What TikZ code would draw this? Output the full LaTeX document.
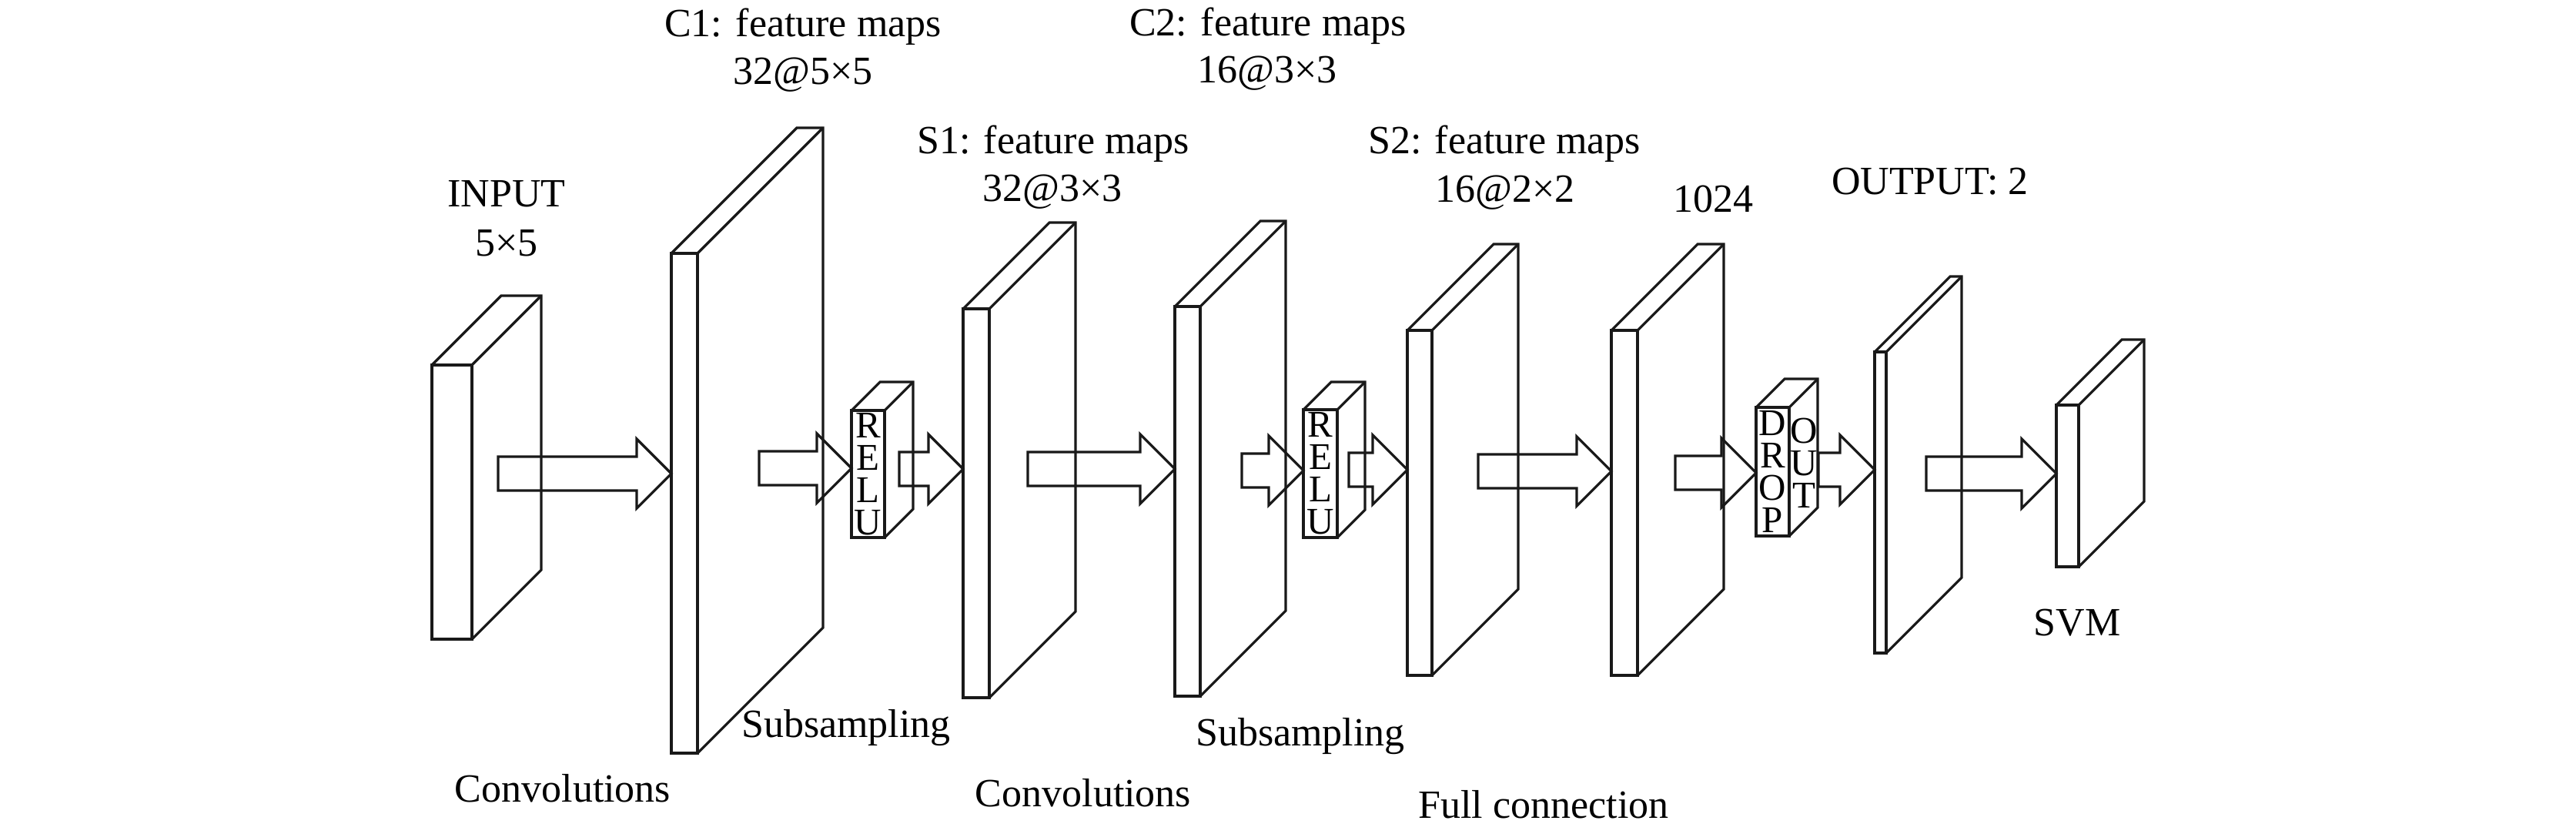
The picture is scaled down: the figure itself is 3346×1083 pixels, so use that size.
\documentclass[tikz,border=0pt]{standalone}
\usepackage{fontspec}
\setmainfont{Liberation Serif}
\usetikzlibrary{calc}
\tikzset{
  edgeline/.style={draw=black!90, line width=3.2pt, line join=miter},
  lface/.style={edgeline, rectangle, inner sep=0pt, outer sep=0pt, align=center, font=\fontsize{49}{42}\selectfont},
  stack/.style={align=center, inner sep=0pt, font=\fontsize{49}{42}\selectfont},
  lbl/.style={anchor=base, inner sep=0pt, font=\fontsize{52}{62}\selectfont},
}
% #1 name, #2 x1, #3 y1, #4 x2, #5 y2, #6 depth, #7 text
\newcommand\layerbox[7]{%
  \node[lface, minimum width={(#4-#2)*1pt}, minimum height={(#5-#3)*1pt}] (#1) at ({(#2+#4)/2},{(#3+#5)/2}) {#7};
  \draw[edgeline] (#1.north west) -- ++(#6,-#6) -- ++({#4-#2},0) -- ($(#1.south east)+(#6,-#6)$) -- (#1.south east);
  \draw[edgeline] (#1.north east) -- ++(#6,-#6);
}
% #1 start x, #2 target node, #3 y
\newcommand\blockarrow[3]{%
  \coordinate (tip) at (#2.west |- 0,#3);
  \draw[edgeline] (#1,{#3-22}) -- ($(tip)+(-45,-22)$) -- ($(tip)+(-45,-45)$) -- (tip)
    -- ($(tip)+(-45,45)$) -- ($(tip)+(-45,22)$) -- (#1,{#3+22}) -- cycle;
}
\begin{document}
\begin{tikzpicture}[x=1pt, y=-1pt]
\fill[white] (0,0) rectangle (3346,1083);
\useasboundingbox (0,0) rectangle (3346,1083);

% layers
\layerbox{inp}{561}{474}{613}{830}{90}{}
\layerbox{cone}{872}{329}{906}{978}{163}{}
\layerbox{relua}{1106}{533}{1149}{698}{37}{R\\E\\L\\U}
\layerbox{sone}{1251}{401}{1285}{906}{112}{}
\layerbox{ctwo}{1526}{398}{1559}{904}{111}{}
\layerbox{relub}{1693}{532}{1737}{698}{36}{R\\E\\L\\U}
\layerbox{stwo}{1828}{429}{1860}{877}{112}{}
\layerbox{fc}{2093}{429}{2127}{877}{112}{}
\layerbox{drop}{2281}{529}{2324}{696}{37}{D\\R\\O\\P}
\node[stack] (outword) at (2343,601) {O\\U\\T};
\layerbox{outp}{2435}{457}{2450}{848}{98}{}
\layerbox{svm}{2671}{526}{2700}{736}{85}{}

% arrows
\blockarrow{647}{cone}{615}
\blockarrow{986}{relua}{608}
\blockarrow{1168}{sone}{609}
\blockarrow{1335}{ctwo}{609}
\blockarrow{1613}{relub}{611}
\blockarrow{1752}{stwo}{610}
\blockarrow{1920}{fc}{612}
\blockarrow{2176}{drop}{614}
\blockarrow{2362}{outp}{610}
\blockarrow{2502}{svm}{615}

% labels
\node[lbl] (inplab) at (658,269) {INPUT};
\node[lbl] (inpdim) at (658,332) {5×5};
\node[lbl] (conelab) at (1043,48) {C1: feature maps};
\node[lbl] (conedim) at (1043,110) {32@5×5};
\node[lbl] (sonelab) at (1368,200) {S1: feature maps};
\node[lbl] (sonedim) at (1367,262) {32@3×3};
\node[lbl] (ctwolab) at (1647,47) {C2: feature maps};
\node[lbl] (ctwodim) at (1646,108) {16@3×3};
\node[lbl] (stwolab) at (1954,200) {S2: feature maps};
\node[lbl] (stwodim) at (1955,263) {16@2×2};
\node[lbl] (fclab) at (2225,276) {1024};
\node[lbl] (outlab) at (2507,253) {OUTPUT: 2};
\node[lbl] (svmlab) at (2698,825) {SVM};
\node[lbl] (convone) at (731,1041) {Convolutions};
\node[lbl] (subone) at (1099,957) {Subsampling};
\node[lbl] (convtwo) at (1407,1047) {Convolutions};
\node[lbl] (subtwo) at (1689,968) {Subsampling};
\node[lbl] (fullconn) at (2005,1062) {Full connection};
\end{tikzpicture}
\end{document}
